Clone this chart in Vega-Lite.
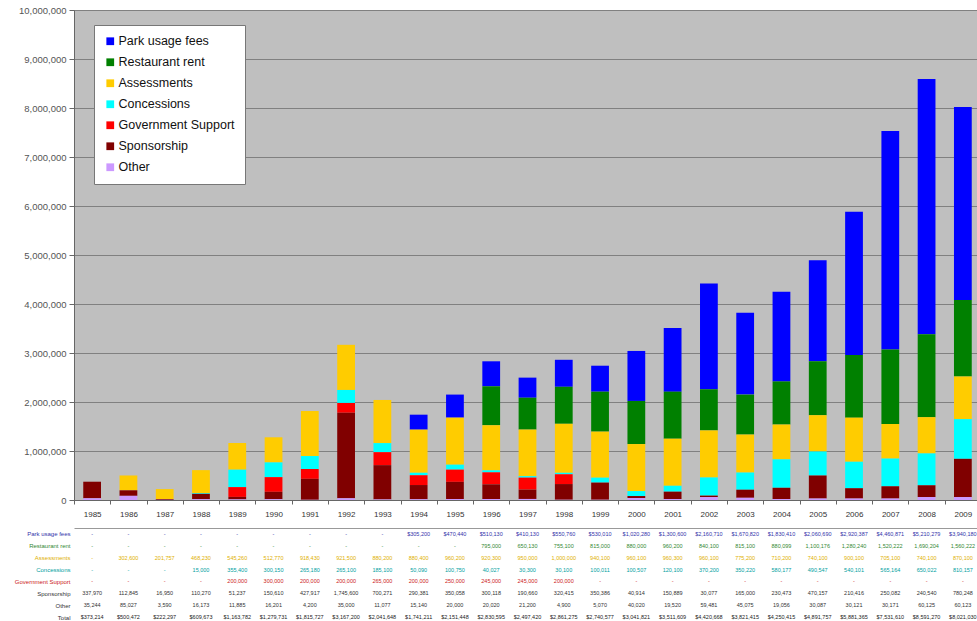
{
  "$schema": "https://vega.github.io/schema/vega-lite/v6.json",
  "background": "white",
  "padding": {"left": 14, "top": 4, "right": 0, "bottom": 0},
  "config": {"font": "Liberation Sans"},
  "data": {"values": [
    {"year":"1985","source":"Park usage fees","value":0},{"year":"1985","source":"Restaurant rent","value":0},{"year":"1985","source":"Assessments","value":0},{"year":"1985","source":"Concessions","value":0},{"year":"1985","source":"Government Support","value":0},{"year":"1985","source":"Sponsorship","value":337970},{"year":"1985","source":"Other","value":35244},
    {"year":"1986","source":"Park usage fees","value":0},{"year":"1986","source":"Restaurant rent","value":0},{"year":"1986","source":"Assessments","value":302600},{"year":"1986","source":"Concessions","value":0},{"year":"1986","source":"Government Support","value":0},{"year":"1986","source":"Sponsorship","value":112845},{"year":"1986","source":"Other","value":85027},
    {"year":"1987","source":"Park usage fees","value":0},{"year":"1987","source":"Restaurant rent","value":0},{"year":"1987","source":"Assessments","value":201757},{"year":"1987","source":"Concessions","value":0},{"year":"1987","source":"Government Support","value":0},{"year":"1987","source":"Sponsorship","value":16950},{"year":"1987","source":"Other","value":3590},
    {"year":"1988","source":"Park usage fees","value":0},{"year":"1988","source":"Restaurant rent","value":0},{"year":"1988","source":"Assessments","value":468230},{"year":"1988","source":"Concessions","value":15000},{"year":"1988","source":"Government Support","value":0},{"year":"1988","source":"Sponsorship","value":110270},{"year":"1988","source":"Other","value":16173},
    {"year":"1989","source":"Park usage fees","value":0},{"year":"1989","source":"Restaurant rent","value":0},{"year":"1989","source":"Assessments","value":545260},{"year":"1989","source":"Concessions","value":355400},{"year":"1989","source":"Government Support","value":200000},{"year":"1989","source":"Sponsorship","value":51237},{"year":"1989","source":"Other","value":11885},
    {"year":"1990","source":"Park usage fees","value":0},{"year":"1990","source":"Restaurant rent","value":0},{"year":"1990","source":"Assessments","value":512770},{"year":"1990","source":"Concessions","value":300150},{"year":"1990","source":"Government Support","value":300000},{"year":"1990","source":"Sponsorship","value":150610},{"year":"1990","source":"Other","value":16201},
    {"year":"1991","source":"Park usage fees","value":0},{"year":"1991","source":"Restaurant rent","value":0},{"year":"1991","source":"Assessments","value":918430},{"year":"1991","source":"Concessions","value":265180},{"year":"1991","source":"Government Support","value":200000},{"year":"1991","source":"Sponsorship","value":427917},{"year":"1991","source":"Other","value":4200},
    {"year":"1992","source":"Park usage fees","value":0},{"year":"1992","source":"Restaurant rent","value":0},{"year":"1992","source":"Assessments","value":921500},{"year":"1992","source":"Concessions","value":265100},{"year":"1992","source":"Government Support","value":200000},{"year":"1992","source":"Sponsorship","value":1745600},{"year":"1992","source":"Other","value":35000},
    {"year":"1993","source":"Park usage fees","value":0},{"year":"1993","source":"Restaurant rent","value":0},{"year":"1993","source":"Assessments","value":880200},{"year":"1993","source":"Concessions","value":185100},{"year":"1993","source":"Government Support","value":265000},{"year":"1993","source":"Sponsorship","value":700271},{"year":"1993","source":"Other","value":11077},
    {"year":"1994","source":"Park usage fees","value":305200},{"year":"1994","source":"Restaurant rent","value":0},{"year":"1994","source":"Assessments","value":880400},{"year":"1994","source":"Concessions","value":50090},{"year":"1994","source":"Government Support","value":200000},{"year":"1994","source":"Sponsorship","value":290381},{"year":"1994","source":"Other","value":15140},
    {"year":"1995","source":"Park usage fees","value":470440},{"year":"1995","source":"Restaurant rent","value":0},{"year":"1995","source":"Assessments","value":960200},{"year":"1995","source":"Concessions","value":100750},{"year":"1995","source":"Government Support","value":250000},{"year":"1995","source":"Sponsorship","value":350058},{"year":"1995","source":"Other","value":20000},
    {"year":"1996","source":"Park usage fees","value":510130},{"year":"1996","source":"Restaurant rent","value":795000},{"year":"1996","source":"Assessments","value":920300},{"year":"1996","source":"Concessions","value":40027},{"year":"1996","source":"Government Support","value":245000},{"year":"1996","source":"Sponsorship","value":300118},{"year":"1996","source":"Other","value":20020},
    {"year":"1997","source":"Park usage fees","value":410130},{"year":"1997","source":"Restaurant rent","value":650130},{"year":"1997","source":"Assessments","value":950000},{"year":"1997","source":"Concessions","value":30300},{"year":"1997","source":"Government Support","value":245000},{"year":"1997","source":"Sponsorship","value":190660},{"year":"1997","source":"Other","value":21200},
    {"year":"1998","source":"Park usage fees","value":550760},{"year":"1998","source":"Restaurant rent","value":755100},{"year":"1998","source":"Assessments","value":1000000},{"year":"1998","source":"Concessions","value":30100},{"year":"1998","source":"Government Support","value":200000},{"year":"1998","source":"Sponsorship","value":320415},{"year":"1998","source":"Other","value":4900},
    {"year":"1999","source":"Park usage fees","value":530010},{"year":"1999","source":"Restaurant rent","value":815000},{"year":"1999","source":"Assessments","value":940100},{"year":"1999","source":"Concessions","value":100011},{"year":"1999","source":"Government Support","value":0},{"year":"1999","source":"Sponsorship","value":350386},{"year":"1999","source":"Other","value":5070},
    {"year":"2000","source":"Park usage fees","value":1020280},{"year":"2000","source":"Restaurant rent","value":880000},{"year":"2000","source":"Assessments","value":960100},{"year":"2000","source":"Concessions","value":100507},{"year":"2000","source":"Government Support","value":0},{"year":"2000","source":"Sponsorship","value":40914},{"year":"2000","source":"Other","value":40020},
    {"year":"2001","source":"Park usage fees","value":1300600},{"year":"2001","source":"Restaurant rent","value":960200},{"year":"2001","source":"Assessments","value":960300},{"year":"2001","source":"Concessions","value":120100},{"year":"2001","source":"Government Support","value":0},{"year":"2001","source":"Sponsorship","value":150889},{"year":"2001","source":"Other","value":19520},
    {"year":"2002","source":"Park usage fees","value":2160710},{"year":"2002","source":"Restaurant rent","value":840100},{"year":"2002","source":"Assessments","value":960100},{"year":"2002","source":"Concessions","value":370200},{"year":"2002","source":"Government Support","value":0},{"year":"2002","source":"Sponsorship","value":30077},{"year":"2002","source":"Other","value":59481},
    {"year":"2003","source":"Park usage fees","value":1670820},{"year":"2003","source":"Restaurant rent","value":815100},{"year":"2003","source":"Assessments","value":775200},{"year":"2003","source":"Concessions","value":350220},{"year":"2003","source":"Government Support","value":0},{"year":"2003","source":"Sponsorship","value":165000},{"year":"2003","source":"Other","value":45075},
    {"year":"2004","source":"Park usage fees","value":1830410},{"year":"2004","source":"Restaurant rent","value":880099},{"year":"2004","source":"Assessments","value":710200},{"year":"2004","source":"Concessions","value":580177},{"year":"2004","source":"Government Support","value":0},{"year":"2004","source":"Sponsorship","value":230473},{"year":"2004","source":"Other","value":19056},
    {"year":"2005","source":"Park usage fees","value":2060690},{"year":"2005","source":"Restaurant rent","value":1100176},{"year":"2005","source":"Assessments","value":740100},{"year":"2005","source":"Concessions","value":490547},{"year":"2005","source":"Government Support","value":0},{"year":"2005","source":"Sponsorship","value":470157},{"year":"2005","source":"Other","value":30087},
    {"year":"2006","source":"Park usage fees","value":2920387},{"year":"2006","source":"Restaurant rent","value":1280240},{"year":"2006","source":"Assessments","value":900100},{"year":"2006","source":"Concessions","value":540101},{"year":"2006","source":"Government Support","value":0},{"year":"2006","source":"Sponsorship","value":210416},{"year":"2006","source":"Other","value":30121},
    {"year":"2007","source":"Park usage fees","value":4460871},{"year":"2007","source":"Restaurant rent","value":1520222},{"year":"2007","source":"Assessments","value":705100},{"year":"2007","source":"Concessions","value":565164},{"year":"2007","source":"Government Support","value":0},{"year":"2007","source":"Sponsorship","value":250082},{"year":"2007","source":"Other","value":30171},
    {"year":"2008","source":"Park usage fees","value":5210279},{"year":"2008","source":"Restaurant rent","value":1690204},{"year":"2008","source":"Assessments","value":740100},{"year":"2008","source":"Concessions","value":650022},{"year":"2008","source":"Government Support","value":0},{"year":"2008","source":"Sponsorship","value":240540},{"year":"2008","source":"Other","value":60125},
    {"year":"2009","source":"Park usage fees","value":3940180},{"year":"2009","source":"Restaurant rent","value":1560222},{"year":"2009","source":"Assessments","value":870100},{"year":"2009","source":"Concessions","value":810157},{"year":"2009","source":"Government Support","value":0},{"year":"2009","source":"Sponsorship","value":780248},{"year":"2009","source":"Other","value":60123}
  ]},
  "transform": [
    {"calculate": "indexof(['Other','Sponsorship','Government Support','Concessions','Assessments','Restaurant rent','Park usage fees'], datum.source)", "as": "stackOrder"}
  ],
  "spacing": 9,
  "resolve": {"scale": {"color": "independent"}, "legend": {"color": "independent"}},
  "vconcat": [
    {
      "width": 907,
      "height": 490,
      "view": {"fill": "#bfbfbf", "stroke": "#808080"},
      "mark": {"type": "bar", "width": {"band": 0.49}},
      "encoding": {
        "x": {"field": "year", "type": "ordinal", "scale": {"paddingInner": 0, "paddingOuter": 0},
              "axis": {"title": null, "labelAngle": 0, "labelFontSize": 8, "labelColor": "#333", "tickBand": "extent", "tickSize": 4, "tickColor": "#666", "domainColor": "#666", "labelPadding": 6}},
        "y": {"field": "value", "type": "quantitative", "stack": true, "scale": {"domain": [0, 10000000], "nice": false},
              "axis": {"title": null, "values": [0,1000000,2000000,3000000,4000000,5000000,6000000,7000000,8000000,9000000,10000000], "format": ",d", "labelFontSize": 9.5, "labelColor": "#555", "gridColor": "#808080", "gridWidth": 1.2, "tickColor": "#666", "tickSize": 5, "domainColor": "#666", "labelPadding": 3}},
        "color": {"field": "source", "type": "nominal",
                  "scale": {"domain": ["Park usage fees","Restaurant rent","Assessments","Concessions","Government Support","Sponsorship","Other"],
                            "range": ["#0000ff","#008000","#ffcc00","#00ffff","#ff0000","#800000","#cc99ff"]},
                  "legend": {"orient": "none", "legendX": 20, "legendY": 15, "title": null, "fillColor": "white", "strokeColor": "#777", "padding": 10, "symbolType": "square", "symbolSize": 60, "symbolStrokeWidth": 0, "labelFontSize": 12.5, "labelColor": "#111", "rowPadding": 8, "labelOffset": 2, "labelLimit": 0}},
        "order": {"field": "stackOrder", "type": "quantitative"}
      }
    },
    {
      "width": 907,
      "height": 95,
      "view": {"stroke": null},
      "encoding": {
        "x": {"field": "year", "type": "ordinal", "scale": {"paddingInner": 0, "paddingOuter": 0},
              "axis": {"orient": "top", "labels": false, "ticks": false, "title": null, "domainColor": "#999"}}
      },
      "layer": [
        {
          "transform": [{"filter": "datum.source !== 'Park usage fees'"}],
          "mark": {"type": "text", "fontSize": 5.5},
          "encoding": {
            "y": {"field": "source", "type": "nominal",
                  "scale": {"domain": ["Park usage fees","Restaurant rent","Assessments","Concessions","Government Support","Sponsorship","Other","Total"], "paddingOuter": 0.3, "paddingInner": 0},
                  "axis": {"title": null, "domain": false, "ticks": false, "labelFontSize": 6, "labelPadding": 4,
                           "labelColor": {"condition": [
                             {"test": "datum.value === 'Park usage fees'", "value": "#3333aa"},
                             {"test": "datum.value === 'Restaurant rent'", "value": "#338833"},
                             {"test": "datum.value === 'Assessments'", "value": "#e0b000"},
                             {"test": "datum.value === 'Concessions'", "value": "#00a0a0"},
                             {"test": "datum.value === 'Government Support'", "value": "#cc2222"}
                           ], "value": "#333333"}}},
            "text": {"condition": {"test": "datum.value === 0", "value": "-"}, "field": "value", "type": "quantitative", "format": ",.0f"},
            "color": {"field": "source", "type": "nominal",
                      "scale": {"domain": ["Park usage fees","Restaurant rent","Assessments","Concessions","Government Support","Sponsorship","Other"],
                                "range": ["#3333aa","#338833","#e0b000","#00a0a0","#cc2222","#333333","#333333"]},
                      "legend": null}
          }
        },
        {
          "transform": [{"filter": "datum.source === 'Park usage fees'"}],
          "mark": {"type": "text", "fontSize": 5.5, "color": "#3333aa"},
          "encoding": {
            "y": {"field": "source", "type": "nominal"},
            "text": {"condition": {"test": "datum.value === 0", "value": "-"}, "field": "value", "type": "quantitative", "format": "$,.0f"}
          }
        },
        {
          "transform": [{"aggregate": [{"op": "sum", "field": "value", "as": "total"}], "groupby": ["year"]}],
          "mark": {"type": "text", "fontSize": 5.5, "color": "#222222"},
          "encoding": {
            "y": {"datum": "Total", "type": "nominal"},
            "text": {"field": "total", "type": "quantitative", "format": "$,.0f"}
          }
        }
      ]
    }
  ]
}
